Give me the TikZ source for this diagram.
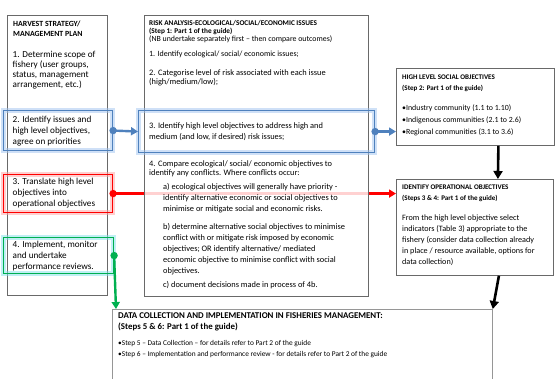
\documentclass[tikz,border=0pt]{standalone}
\usepackage{fontspec}
\setmainfont{Carlito}
\definecolor{frame}{RGB}{105,105,105}
\definecolor{framelight}{RGB}{150,150,150}
\definecolor{hlblue}{RGB}{79,129,189}
\definecolor{glowblue}{RGB}{160,195,240}
\definecolor{hlred}{RGB}{255,0,0}
\definecolor{glowred}{RGB}{255,160,160}
\definecolor{hlgreen}{RGB}{0,176,80}
\definecolor{glowgreen}{RGB}{130,225,235}
\usetikzlibrary{arrows.meta,positioning,calc,backgrounds}

\begin{document}
\begin{tikzpicture}[x=1bp,y=-1bp,
    panel/.style={draw=frame,line width=0.8bp,fill=white,inner sep=0pt,anchor=north west},
    hlbox/.style 2 args={draw=#1,line width=1.1bp,inner sep=0pt,anchor=north west,
      preaction={draw=#2,line width=5bp,opacity=0.5}},
    txt/.style 2 args={anchor=north west,align=left,inner sep=0pt,font=\fontsize{#1}{#2}\selectfont},
    headline/.style 2 args={anchor=north west,align=left,inner sep=0pt,font=\bfseries\fontsize{#1}{#2}\selectfont},
    link/.style={#1,line width=2.4bp,-{Triangle[length=7bp,width=8bp]}},
    bigarrow/.style={line width=2.6bp,-{Triangle[length=8bp,width=9bp]}}]
  \useasboundingbox (0,0) rectangle (555,378);
  \clip (0,0) rectangle (555,378);
  % panels
  \node[panel,minimum width=100bp,minimum height=280bp] (harvest) at (7,15) {};
  \node[panel,minimum width=224bp,minimum height=281bp,fill opacity=0.82] (risk) at (144,15) {};
  \node[panel,minimum width=158bp,minimum height=77bp] (social) at (396,68) {};
  \node[panel,minimum width=157bp,minimum height=96bp] (oper) at (396,179) {};
  \node[panel,draw=framelight,minimum width=380bp,minimum height=90bp] (datacoll) at (112,309) {};
  % highlighted steps
  \node[hlbox={hlblue}{glowblue},minimum width=109bp,minimum height=40bp] (hsissues) at (3,110) {};
  \node[hlbox={hlred}{glowred},minimum width=109bp,minimum height=38bp] (hstranslate) at (3,174) {};
  \node[hlbox={hlgreen}{glowgreen},minimum width=110bp,minimum height=36bp] (hsimplement) at (3,237) {};
  \node[hlbox={hlblue}{glowblue},minimum width=236bp,minimum height=42bp] (riskissues) at (138,110) {};

  % harvest strategy texts
  \node[headline={7.9}{10}] (hshead) at (13,20.5) {HARVEST STRATEGY/\\MANAGEMENT PLAN};
  \node[txt={9.2}{10.3}] (hsone) at (12.5,50.5) {1. Determine scope of\\fishery (user groups,\\status, management\\arrangement, etc.)};
  \node[txt={9.2}{11.5}] (hstwo) at (12.5,115.5) {2. Identify issues and\\high level objectives,\\agree on priorities};
  \node[txt={9.2}{11.5}] (hsthree) at (12.5,177.5) {3. Translate high level\\objectives into\\operational objectives};
  \node[txt={9.2}{11.5}] (hsfour) at (12.5,240.5) {4. Implement, monitor\\and undertake\\performance reviews.};

  % risk analysis texts
  \node[headline={7.3}{7.7}] (riskhead) at (149,20.5) {RISK ANALYSIS-ECOLOGICAL/SOCIAL/ECONOMIC ISSUES\\(Step 1: Part 1 of the guide)};
  \node[txt={7.9}{9}] (risknb) at (149,35.5) {(NB undertake separately first -- then compare outcomes)};
  \node[txt={8}{9}] (riskone) at (149,50.5) {1. Identify ecological/ social/ economic issues;};
  \node[txt={8.4}{9}] (risktwo) at (149,69.5) {2. Categorise level of risk associated with each issue\\(high/medium/low);};
  \node[txt={8.4}{11}] (riskthree) at (149,122.5) {3. Identify high level objectives to address high and\\medium (and low, if desired) risk issues;};
  \node[txt={8.4}{8.7}] (riskfour) at (149,160.5) {4. Compare ecological/ social/ economic objectives to\\identify any conflicts. Where conflicts occur:};
  \node[txt={8.4}{11}] (riska) at (163,183.5) {a) ecological objectives will generally have priority -\\identify alternative economic or social objectives to\\minimise or mitigate social and economic risks.};
  \node[txt={8.4}{11}] (riskb) at (163,223.5) {b) determine alternative social objectives to minimise\\conflict with or mitigate risk imposed by economic\\objectives; OR identify alternative/ mediated\\economic objective to minimise conflict with social\\objectives.};
  \node[txt={8.4}{11}] (riskc) at (163,281.5) {c) document decisions made in process of 4b.};

  % social objectives texts
  \node[headline={7.1}{11}] (socialhead) at (402,74.5) {HIGH LEVEL SOCIAL OBJECTIVES\\(Step 2: Part 1 of the guide)};
  \node[txt={7.9}{12}] (sociallist) at (402,104.5) {\textbullet Industry community (1.1 to 1.10)\\\textbullet Indigenous communities (2.1 to 2.6)\\\textbullet Regional communities (3.1 to 3.6)};

  % operational objectives texts
  \node[headline={7.1}{11}] (operhead) at (402,184.5) {IDENTIFY OPERATIONAL OBJECTIVES\\(Steps 3 \& 4: Part 1 of the guide)};
  \node[txt={8.2}{11}] (operbody) at (402,215) {From the high level objective select\\indicators (Table 3) appropriate to the\\fishery (consider data collection already\\in place / resource available, options for\\data collection)};

  % data collection texts
  \node[headline={8.9}{11}] (datahead) at (118,312.5) {DATA COLLECTION AND IMPLEMENTATION IN FISHERIES MANAGEMENT:\\(Steps 5 \& 6: Part 1 of the guide)};
  \node[txt={7.4}{11}] (databody) at (118,340.5) {\textbullet Step 5 -- Data Collection -- for details refer to Part 2 of the guide\\\textbullet Step 6 -- Implementation and performance review - for details refer to Part 2 of the guide};

  % connectors
  \begin{scope}[on background layer]
    \draw[link=hlred] (hstranslate.east) -- (hstranslate.east -| oper.west);
  \end{scope}
  \draw[link=hlblue] (hsissues.east) -- (riskissues.west);
  \draw[link=hlblue] (riskissues.east) -- (riskissues.east -| social.west);
  \draw[link=hlgreen] (hsimplement.east) -- ([xshift=4bp]datacoll.north west);
  \foreach \src/\col in {hsissues/hlblue,hstranslate/hlred,hsimplement/hlgreen,riskissues/hlblue}
    \fill[\col] (\src.east) circle (3.7bp);
  \draw[bigarrow] ([xshift=23bp]social.south) -- ([xshift=23bp]oper.north);
  \draw[bigarrow] ([xshift=24bp]oper.south) -- (datacoll.north east);
\end{tikzpicture}
\end{document}
